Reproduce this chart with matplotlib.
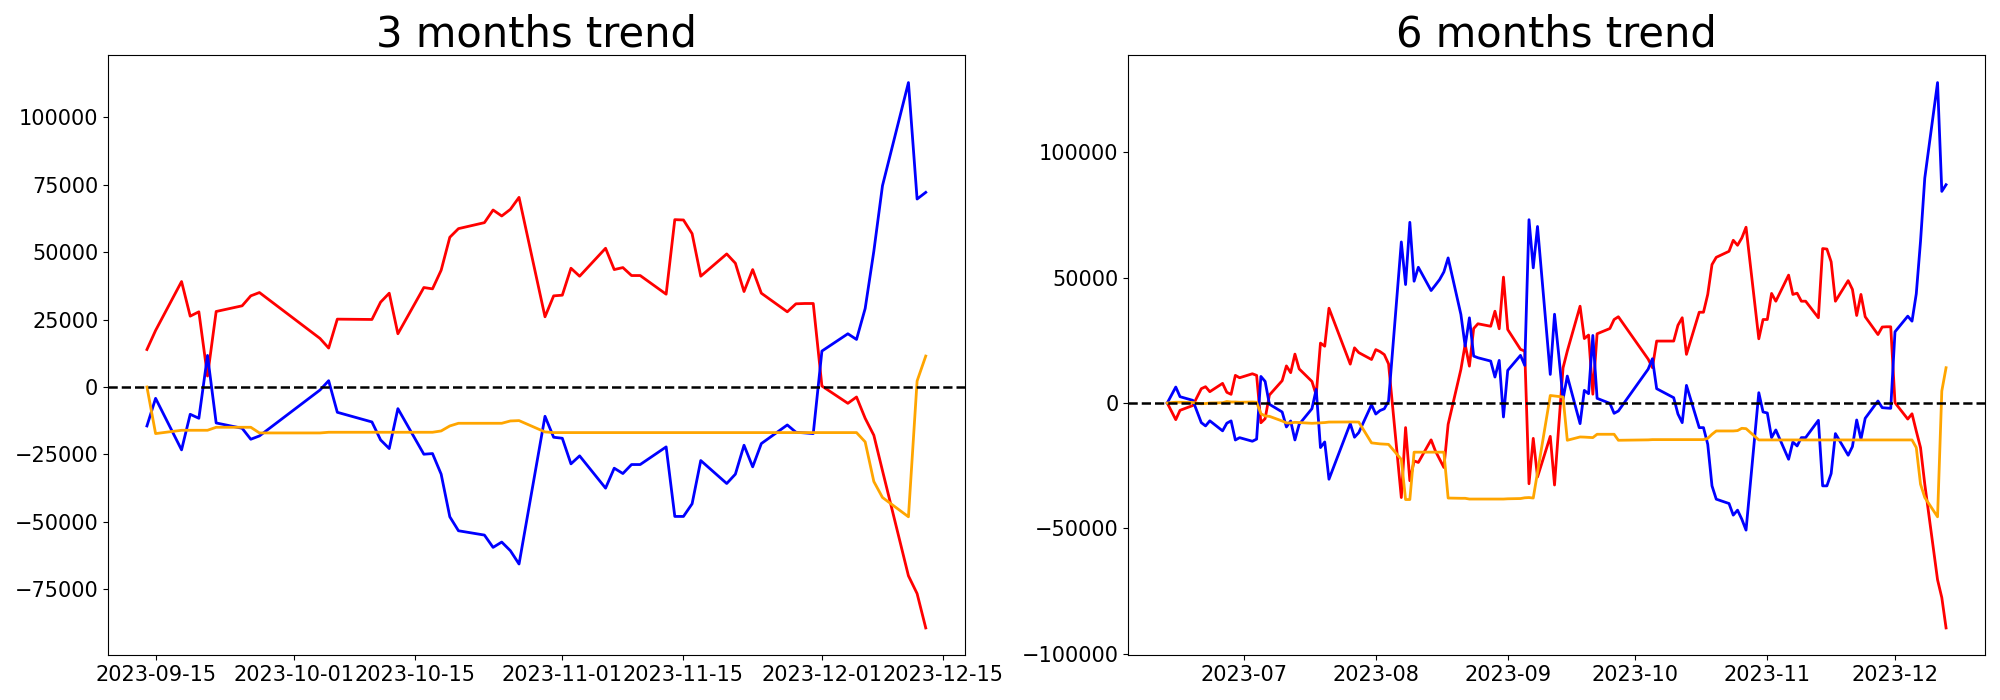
import matplotlib.pyplot as plt
import pandas as pd

# 3 months window
dates_3m = ["2023-09-14", "2023-09-15", "2023-09-18", "2023-09-19", "2023-09-20", "2023-09-21", "2023-09-22",
            "2023-09-25", "2023-09-26", "2023-09-27",
            "2023-10-04", "2023-10-05", "2023-10-06", "2023-10-10", "2023-10-11", "2023-10-12", "2023-10-13",
            "2023-10-16", "2023-10-17", "2023-10-18", "2023-10-19", "2023-10-20", "2023-10-23", "2023-10-24",
            "2023-10-25", "2023-10-26", "2023-10-27", "2023-10-30", "2023-10-31",
            "2023-11-01", "2023-11-02", "2023-11-03", "2023-11-06", "2023-11-07", "2023-11-08", "2023-11-09",
            "2023-11-10", "2023-11-13", "2023-11-14", "2023-11-15", "2023-11-16", "2023-11-17", "2023-11-20",
            "2023-11-21", "2023-11-22", "2023-11-23", "2023-11-24", "2023-11-27", "2023-11-28", "2023-11-29",
            "2023-11-30",
            "2023-12-01", "2023-12-04", "2023-12-05", "2023-12-06", "2023-12-07", "2023-12-08", "2023-12-11",
            "2023-12-12", "2023-12-13"]

red_3m = [13900, 20960, 39090, 26260, 27870, 4070, 27990, 30090, 33780, 35010,
          18000, 14430, 25150, 25030, 31440, 34770, 19730, 36870, 36370, 43280, 55490, 58690, 60910, 65600,
          63380, 65840, 70280, 26020, 33780,
          34030, 44020, 41060, 51420, 43520, 44260, 41310, 41310, 34400, 62020, 61900, 56840, 41060, 49320,
          45870, 35390, 43520, 34770, 27870, 30830, 30950, 30950,
          370, -6040, -3700, -11590, -17880, -31000, -69970, -76550, -89280]

blue_3m = [-14430, -4190, -23300, -10110, -11590, 11710, -13320, -15290, -19360, -18130,
           -1110, 2340, -9370, -12950, -19600, -22810, -8010, -24910, -24660, -32300, -48090, -53270, -54870,
           -59430, -57460, -60660, -65600, -10850, -18620,
           -18990, -28480, -25520, -37480, -30090, -32060, -28730, -28730, -22190, -47960, -47960, -43280,
           -27250, -35760, -32300, -21580, -29590, -20960, -14060, -16770, -17000, -17260,
           13320, 19730, 17630, 29100, 50310, 74600, 112820, 69660, 72130]

orange_3m = [0, -17260, -16030, -16030, -16030, -16030, -14920, -14920, -14920, -17020,
             -17020, -16770, -16770, -16770, -16770, -16770, -16770, -16770, -16770, -16280, -14430, -13440,
             -13440, -13440, -13440, -12580, -12450, -16650, -16890,
             -16890, -16890, -16890, -16890, -16890, -16890, -16890, -16890, -16890, -16890, -16890, -16890,
             -16890, -16890, -16890, -16890, -16890, -16890, -16890, -16890, -16890, -16890,
             -16890, -16890, -16890, -20340, -35020, -40940, -48090, 2220, 11470]

# 6 months window
dates_6m = ["2023-06-13", "2023-06-15", "2023-06-16", "2023-06-19", "2023-06-21", "2023-06-22", "2023-06-23",
            "2023-06-26", "2023-06-27", "2023-06-28", "2023-06-29", "2023-06-30",
            "2023-07-03", "2023-07-04", "2023-07-05", "2023-07-06", "2023-07-07", "2023-07-10", "2023-07-11",
            "2023-07-12", "2023-07-13", "2023-07-14", "2023-07-17", "2023-07-18", "2023-07-19", "2023-07-20",
            "2023-07-21", "2023-07-26", "2023-07-27", "2023-07-28", "2023-07-31",
            "2023-08-01", "2023-08-02", "2023-08-03", "2023-08-04", "2023-08-07", "2023-08-08", "2023-08-09",
            "2023-08-10", "2023-08-11", "2023-08-14", "2023-08-15", "2023-08-16", "2023-08-17", "2023-08-18",
            "2023-08-21", "2023-08-22", "2023-08-23", "2023-08-24", "2023-08-25", "2023-08-28", "2023-08-29",
            "2023-08-30", "2023-08-31",
            "2023-09-01", "2023-09-04", "2023-09-05", "2023-09-06", "2023-09-07", "2023-09-08", "2023-09-11",
            "2023-09-12", "2023-09-13", "2023-09-14", "2023-09-15", "2023-09-18", "2023-09-19", "2023-09-20",
            "2023-09-21", "2023-09-22", "2023-09-25", "2023-09-26", "2023-09-27"] + dates_3m[10:]

red_6m = [0, -6640, -2920, -1000, 5710, 6500, 4510, 7830, 4260, 3460, 11020, 10070,
          11660, 11020, -7880, -6240, 3180, 8900, 14800, 12100, 19500, 13600, 8600, 3200, 23900, 22650,
          37800, 15500, 22000, 20100, 17350,
          21300, 20500, 19300, 15600, -37700, -9800, -31000, -23100, -23700, -14700, -19100, -22400, -25700,
          -8500, 13400, 23400, 14700, 29700, 31600, 30600, 36600, 29600, 50200,
          29300, 21400, 20700, -32200, -14100, -29500, -13300, -32700, -9000, 14000, 20700, 38600, 25700,
          27100, 3500, 27600, 29700, 33300, 34400,
          17500, 14100, 24700, 24700, 31000, 34000, 19400, 36200, 36200, 43300, 55200, 58100, 60500, 64900,
          62900, 65800, 70100, 25600, 33300,
          33300, 43700, 40600, 51000, 43300, 43800, 40600, 40600, 34000, 61600, 61400, 56300, 40600, 48800,
          45300, 34900, 43300, 34400, 27300, 30300, 30400, 30400,
          130, -6400, -4300, -11200, -17800, -32400, -70500, -77600, -89700]

blue_6m = [0, 6370, 2520, 1060, -7830, -9140, -7100, -11100, -8050, -7130, -14750, -13820,
           -15250, -14400, 10600, 8600, -500, -3580, -9550, -7170, -14730, -8490, -2260, 5440, -17780, -15530,
           -30400, -8200, -13650, -11800, -700,
           -4400, -3000, -2300, 800, 64230, 47240, 72060, 48570, 54140, 44850, 47000, 49230, 52280, 57860,
           35300, 22690, 33970, 18710, 18050, 16720, 10350, 16990, -5570,
           13000, 19000, 15000, 73100, 53900, 70400, 11400, 35400, 19000, 1500, 10750, -8230, 5040, 3720,
           26940, 1860, -130, -4110, -3180,
           13500, 17650, 5710, 2120, -4380, -7830, 7030, -9820, -9820, -16450, -33040, -38350, -40080, -44720,
           -42730, -46310, -50690, 4110, -3580,
           -3980, -13800, -10750, -22430, -15530, -17120, -13800, -13800, -6900, -33040, -33040, -28130,
           -12210, -20830, -17380, -6770, -14460, -6100, 800, -1860, -2000, -2120,
           28400, 34630, 32640, 43530, 64490, 89710, 127790, 84400, 87050]

orange_6m = [0, 300, 300, 200, -300, -200, 0, 100, 600, 400, 400, 300,
             400, 300, -4250, -5180, -5310, -7170, -7960, -7960, -7700, -7800, -8090, -8000, -7900, -7800,
             -7600, -7560, -7560, -7600, -15900,
             -16100, -16300, -16400, -16500, -22500, -38500, -38500, -19600, -19600, -19600, -19600, -19600,
             -19600, -37900, -38000, -38000, -38300, -38300, -38300, -38300, -38300, -38300, -38300,
             -38200, -38100, -37800, -37700, -37900, -27700, 3000, 2800, 2600, 2400, -14860, -13540, -13600,
             -13700, -13800, -12470, -12470, -12470, -14860,
             -14700, -14600, -14600, -14600, -14600, -14600, -14600, -14600, -14600, -14100, -12470, -11150,
             -11150, -11150, -11000, -10090, -10220, -14730, -14730,
             -14730, -14730, -14730, -14730, -14730, -14730, -14730, -14730, -14730, -14730, -14730, -14730,
             -14730, -14730, -14730, -14730, -14730, -14730, -14730, -14730, -14730, -14730,
             -14730, -14730, -14730, -17780, -32380, -37690, -45380, 4780, 14070]


#function for drawing one trend panel
def draw_trend(ax, dates, red, blue, orange, title):
    x = pd.to_datetime(dates)
    ax.plot(x, red, color="red", linewidth=2)
    ax.plot(x, blue, color="blue", linewidth=2)
    ax.plot(x, orange, color="orange", linewidth=2)
    ax.axhline(0, color="black", linestyle="--", linewidth=1.8)
    ax.set_title(title, fontsize=30)
    ax.tick_params(labelsize=15)


fig, (ax1, ax2) = plt.subplots(1, 2, figsize=(20, 7), dpi=100)
draw_trend(ax1, dates_3m, red_3m, blue_3m, orange_3m, "3 months trend")
draw_trend(ax2, dates_6m, red_6m, blue_6m, orange_6m, "6 months trend")
plt.subplots_adjust(left=0.054, right=0.9925, bottom=0.064, top=0.921, wspace=0.191)
plt.savefig("out.png")
plt.close()
